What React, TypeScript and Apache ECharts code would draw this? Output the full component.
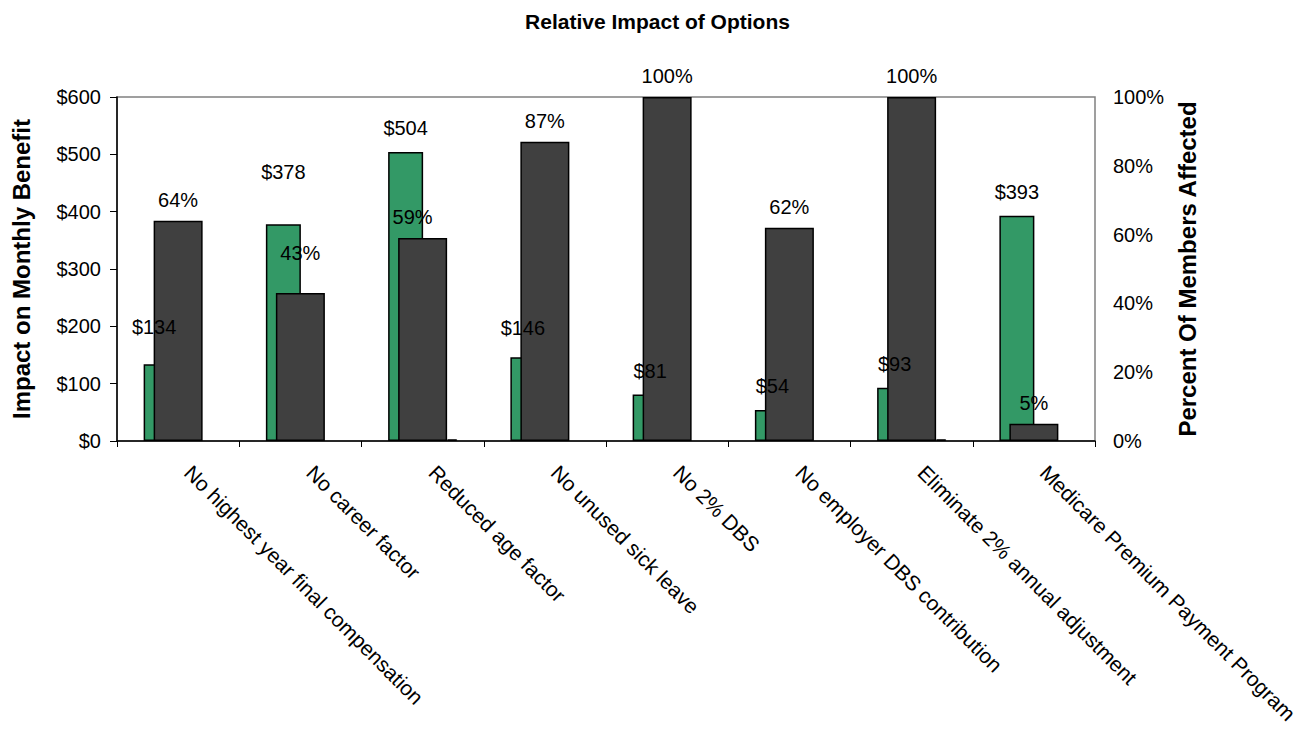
import { useEffect, useRef } from "react";
import * as echarts from "echarts";

// Option names along the bottom axis
const categories = [
  "No highest year final compensation",
  "No career factor",
  "Reduced age factor",
  "No unused sick leave",
  "No 2% DBS",
  "No employer DBS contribution",
  "Eliminate 2% annual adjustment",
  "Medicare Premium Payment Program",
];

// Impact on the monthly benefit, in dollars (left axis)
const monthlyImpact = [134, 378, 504, 146, 81, 54, 93, 393];

// Share of members affected, in percent (right axis)
const membersAffectedPct = [64, 43, 59, 87, 100, 62, 100, 5];

// Small residual share shown beside a few of the percent bars
const residualPct: (number | null)[] = [null, null, 0.5, null, null, null, 0.5, null];

// Axis tick settings
const dollarMax = 600;
const dollarStep = 100;
const pctMax = 100;
const pctStep = 20;

const FONT = "'Liberation Sans', Arial, Helvetica, sans-serif";
const GREEN = "#339966";
const DARK = "#404040";

// Hand-placed label nudges [dx, dy] keyed by category index
const impactLabelShift: Record<number, [number, number]> = {
  0: [-7, -13],
  1: [0, -28],
  3: [-5, -5],
};
const pctLabelShift: Record<number, [number, number]> = {
  1: [0, -19],
  2: [-10, 0],
};

function buildOption(): echarts.EChartsCoreOption {
  const labelStyle = { color: "#000", fontFamily: FONT, fontSize: 20 };
  const barBorder = { borderColor: "#000", borderWidth: 1.5 };
  const empty = categories.map(() => "-");

  const impactData = monthlyImpact.map((v, i) =>
    impactLabelShift[i] ? { value: v, label: { offset: impactLabelShift[i] } } : v
  );
  const pctData = membersAffectedPct.map((v, i) =>
    pctLabelShift[i] ? { value: v, label: { offset: pctLabelShift[i] } } : v
  );
  const residualData = residualPct.map((v) => (v == null ? "-" : v));

  return {
    animation: false,
    backgroundColor: "#fff",
    title: {
      text: "Relative Impact of Options",
      left: "center",
      top: 6,
      textStyle: { fontFamily: FONT, fontSize: 21, fontWeight: "bold", color: "#000" },
    },
    grid: {
      left: 117,
      right: 220,
      top: 97,
      bottom: 289,
      show: true,
      borderColor: "#808080",
      borderWidth: 1.5,
      backgroundColor: "transparent",
    },
    xAxis: [
      {
        type: "category",
        data: categories,
        axisLine: { lineStyle: { color: "#000", width: 1.5 } },
        axisTick: { show: true, length: 6, lineStyle: { color: "#000" } },
        axisLabel: {
          rotate: -45,
          margin: 18,
          padding: [0, 0, 0, 14],
          interval: 0,
          color: "#000",
          fontFamily: FONT,
          fontSize: 21,
        },
      },
      { type: "category", data: categories, show: false },
    ],
    yAxis: [
      {
        type: "value",
        min: 0,
        max: dollarMax,
        interval: dollarStep,
        name: "Impact on Monthly Benefit",
        nameLocation: "middle",
        nameGap: 84,
        nameTextStyle: { fontFamily: FONT, fontSize: 24, fontWeight: "bold", color: "#000" },
        splitLine: { show: false },
        axisLine: { show: true, lineStyle: { color: "#000", width: 1.5 } },
        axisTick: { show: true, length: 7, lineStyle: { color: "#000" } },
        axisLabel: {
          margin: 16,
          color: "#000",
          fontFamily: FONT,
          fontSize: 20,
          formatter: (v: number) => "$" + v,
        },
      },
      {
        type: "value",
        min: 0,
        max: pctMax,
        interval: pctStep,
        position: "right",
        name: "Percent Of Members Affected",
        nameLocation: "middle",
        nameGap: 80,
        nameTextStyle: { fontFamily: FONT, fontSize: 24, fontWeight: "bold", color: "#000" },
        splitLine: { show: false },
        axisLine: { show: false },
        axisTick: { show: false },
        axisLabel: {
          margin: 18,
          color: "#000",
          fontFamily: FONT,
          fontSize: 20,
          formatter: (v: number) => v + "%",
        },
      },
    ],
    series: [
      {
        name: "Impact on Monthly Benefit",
        type: "bar",
        xAxisIndex: 0,
        yAxisIndex: 0,
        barWidth: 35,
        barGap: 0,
        data: impactData,
        itemStyle: { color: GREEN, ...barBorder },
        label: {
          show: true,
          position: "top",
          distance: 14,
          formatter: (p: any) => "$" + p.value,
          ...labelStyle,
        },
      },
      {
        name: "spacer-left",
        type: "bar",
        xAxisIndex: 0,
        yAxisIndex: 0,
        barWidth: 34,
        barGap: 0,
        silent: true,
        data: empty,
      },
      {
        name: "spacer-right",
        type: "bar",
        xAxisIndex: 1,
        yAxisIndex: 1,
        barWidth: 10,
        barGap: 0,
        silent: true,
        data: empty,
      },
      {
        name: "Percent Of Members Affected",
        type: "bar",
        xAxisIndex: 1,
        yAxisIndex: 1,
        barWidth: 49,
        barGap: 0,
        data: pctData,
        itemStyle: { color: DARK, ...barBorder },
        label: {
          show: true,
          position: "top",
          distance: 11,
          formatter: (p: any) => p.value + "%",
          ...labelStyle,
        },
      },
      {
        name: "Residual",
        type: "bar",
        xAxisIndex: 1,
        yAxisIndex: 1,
        barWidth: 10,
        barGap: 0,
        data: residualData,
        itemStyle: { color: DARK, borderColor: "#000", borderWidth: 1 },
      },
    ],
  };
}

export default function App() {
  const ref = useRef<HTMLDivElement>(null);

  useEffect(() => {
    if (!ref.current) return;
    const chart = echarts.init(ref.current, undefined, { renderer: "svg" });
    chart.setOption(buildOption());
    return () => chart.dispose();
  }, []);

  return (
    <div
      ref={ref}
      style={{ position: "fixed", left: 0, top: 0, width: 1315, height: 730, background: "#fff" }}
    />
  );
}
